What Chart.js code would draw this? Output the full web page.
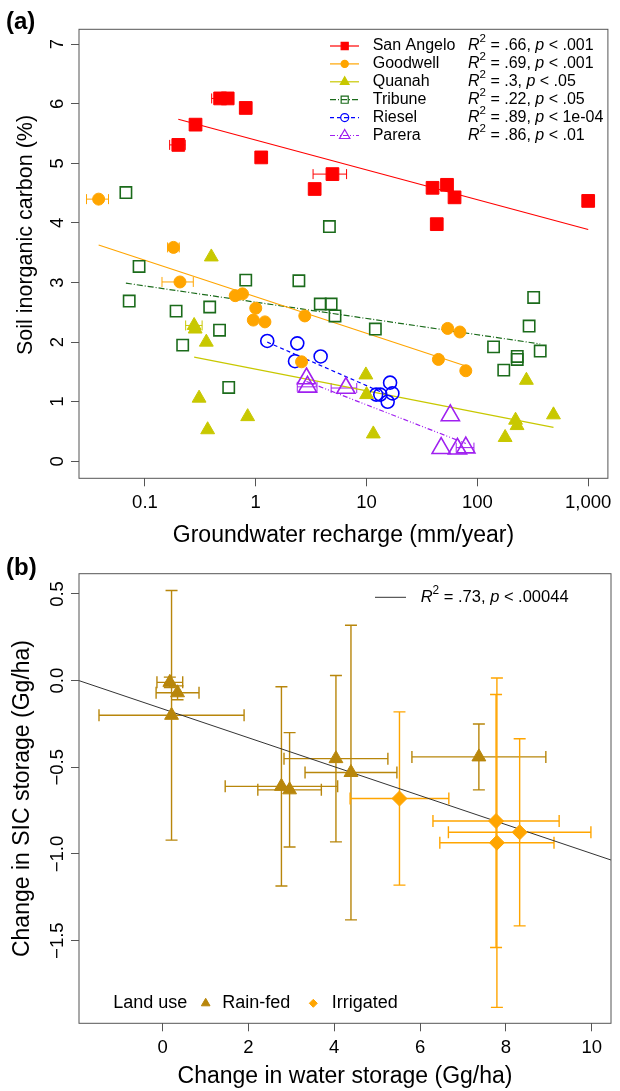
<!DOCTYPE html>
<html>
<head>
<meta charset="utf-8">
<script src="https://cdn.jsdelivr.net/npm/chart.js@4.4.0/dist/chart.umd.min.js"></script>
<style>
  html, body { margin: 0; padding: 0; background: #fff; }
  #wrap { position: relative; width: 620px; height: 1091px; }
  canvas { position: absolute; left: 0; }
  #ca { top: 0; }
  #cb { top: 555px; }
</style>
</head>
<body>
<div id="wrap">
  <canvas id="ca" width="620" height="555"></canvas>
  <canvas id="cb" width="620" height="536"></canvas>
</div>
<script>
// ---------- panel (a): SIC vs groundwater recharge ----------
const aXTicks = [0.1, 1, 10, 100, 1000];
const aXTickLabels = ['0.1', '1', '10', '100', '1,000'];
const aYTicks = [0, 1, 2, 3, 4, 5, 6, 7];
const aYTickLabels = ['0', '1', '2', '3', '4', '5', '6', '7'];

const sanAngeloX = [0.20, 0.286, 0.477, 0.558, 0.812, 1.12, 3.40, 4.92, 39.4, 53.2, 62.2, 43.0, 1000];
const sanAngeloY = [5.31, 5.65, 6.09, 6.09, 5.93, 5.10, 4.57, 4.82, 4.59, 4.64, 4.43, 3.98, 4.37];
const sanAngeloErr = [[0, 0.167, 0.231], [2, 0.40, 0.63], [7, 3.29, 6.60]];
const sanAngeloFitX = [0.2, 1000];
const sanAngeloFitY = [5.74, 3.89];

const goodwellX = [0.0382, 0.181, 0.207, 0.653, 0.759, 1.0, 0.95, 1.21, 2.77, 2.59, 53.9, 69.5, 44.5, 78.6];
const goodwellY = [4.40, 3.59, 3.01, 2.78, 2.81, 2.57, 2.37, 2.34, 2.44, 1.67, 2.23, 2.17, 1.71, 1.52];
const goodwellErr = [[0, 0.0297, 0.0469], [1, 0.160, 0.204], [2, 0.1425, 0.273]];
const goodwellFitX = [0.0382, 78.6];
const goodwellFitY = [3.63, 1.60];

const quanahX = [0.397, 0.278, 0.284, 0.358, 0.308, 0.845, 0.368, 9.86, 10.0, 11.5, 277, 221, 228, 178, 486];
const quanahY = [3.43, 2.28, 2.22, 2.00, 1.06, 0.75, 0.53, 1.45, 1.12, 0.46, 1.36, 0.69, 0.60, 0.40, 0.78];
const quanahErr = [[1, 0.233, 0.328]];
const quanahFitX = [0.278, 486];
const quanahFitY = [1.75, 0.57];

const tribuneX = [0.0673, 4.62, 0.0885, 0.0721, 0.812, 2.45, 0.191, 0.384, 0.471, 0.219, 0.570, 3.82, 4.79, 5.19, 12.0, 322, 293, 140, 229, 229, 369, 173];
const tribuneY = [4.51, 3.94, 3.27, 2.69, 3.04, 3.03, 2.52, 2.59, 2.20, 1.95, 1.24, 2.64, 2.64, 2.44, 2.22, 2.75, 2.27, 1.92, 1.76, 1.71, 1.85, 1.53];
const tribuneErr = [];
const tribuneFitX = [0.0673, 369];
const tribuneFitY = [2.99, 1.97];

const rieselX = [1.27, 2.37, 2.26, 3.85, 12.2, 13.3, 16.3, 17.1, 15.5];
const rieselY = [2.02, 1.98, 1.68, 1.76, 1.12, 1.12, 1.32, 1.14, 1.00];
const rieselErr = [];
const rieselFitX = [1.27, 17.1];
const rieselFitY = [2.00, 1.08];

const pareraX = [2.87, 2.93, 6.51, 57.0, 47.1, 66.1, 78.6];
const pareraY = [1.39, 1.25, 1.23, 0.77, 0.22, 0.21, 0.23];
const pareraErr = [[1, 2.37, 3.57], [2, 4.79, 8.15], [6, 64.4, 93.1]];
const pareraFitX = [2.87, 78.6];
const pareraFitY = [1.34, 0.30];

// ---------- panel (b): SIC storage vs water storage ----------
const bXTicks = [0, 2, 4, 6, 8, 10];
const bXTickLabels = ['0', '2', '4', '6', '8', '10'];
const bYTicks = [0.5, 0, -0.5, -1, -1.5];
const bYTickLabels = ['0.5', '0.0', '\u22120.5', '\u22121.0', '\u22121.5'];

const rainX = [0.17, 0.35, 0.21, 2.77, 2.96, 4.04, 4.39, 7.37];
const rainY = [-0.01, -0.07, -0.20, -0.61, -0.63, -0.45, -0.53, -0.44];
const rainXErr = [0.30, 0.50, 1.69, 1.31, 0.74, 1.21, 1.07, 1.56];
const rainYErr = [0.03, 0.04, 0.72, 0.575, 0.33, 0.48, 0.85, 0.19];

const irrX = [5.52, 7.77, 7.79, 8.32];
const irrY = [-0.68, -0.81, -0.935, -0.875];
const irrXErr = [1.15, 1.47, 1.33, 1.66];
const irrYErr = [0.50, 0.73, 0.95, 0.54];

const bFitX = [-1.946, 10.448];
const bFitY = [0.0, -1.035];

const FONT = '"Liberation Sans", Arial, Helvetica, sans-serif';
Chart.defaults.font.family = FONT;
Chart.defaults.color = '#000';

const sites = [
  { name: 'San Angelo', x: sanAngeloX, y: sanAngeloY, err: sanAngeloErr, fx: sanAngeloFitX, fy: sanAngeloFitY,
    r2: '.66', p: '.001', color: '#ff0000', style: 'rect', r: 9, filled: true, dash: [], lr: 5 },
  { name: 'Goodwell', x: goodwellX, y: goodwellY, err: goodwellErr, fx: goodwellFitX, fy: goodwellFitY,
    r2: '.69', p: '.001', color: '#ffa500', style: 'circle', r: 6, filled: true, dash: [], lr: 3.6 },
  { name: 'Quanah', x: quanahX, y: quanahY, err: quanahErr, fx: quanahFitX, fy: quanahFitY,
    r2: '.3', p: '.05', color: '#c8c800', style: 'triangle', r: 8, filled: true, dash: [], lr: 5 },
  { name: 'Tribune', x: tribuneX, y: tribuneY, err: tribuneErr, fx: tribuneFitX, fy: tribuneFitY,
    r2: '.22', p: '.05', color: '#1b6b1b', style: 'rect', r: 8, filled: false, dash: [6, 2, 1, 2], lr: 5 },
  { name: 'Riesel', x: rieselX, y: rieselY, err: rieselErr, fx: rieselFitX, fy: rieselFitY,
    r2: '.89', p: '1e-04', color: '#0000ff', style: 'circle', r: 6.5, filled: false, dash: [4, 3], lr: 4 },
  { name: 'Parera', x: pareraX, y: pareraY, err: pareraErr, fx: pareraFitX, fy: pareraFitY,
    r2: '.86', p: '.01', color: '#a020f0', style: 'triangle', r: 10.5, filled: false, dash: [5, 2, 1, 2, 1, 2], lr: 6 }
];

function pts(xs, ys) { return xs.map((x, i) => ({ x: x, y: ys[i] })); }

function drawMarker(ctx, style, x, y, r, color, filled, lw) {
  ctx.save();
  ctx.setLineDash([]);
  ctx.beginPath();
  if (style === 'rect') {
    const s = r * Math.SQRT1_2;
    ctx.rect(x - s, y - s, 2 * s, 2 * s);
  } else if (style === 'circle') {
    ctx.arc(x, y, r, 0, Math.PI * 2);
  } else if (style === 'triangle') {
    ctx.moveTo(x, y - r);
    ctx.lineTo(x + r * 0.866, y + r * 0.5);
    ctx.lineTo(x - r * 0.866, y + r * 0.5);
    ctx.closePath();
  } else if (style === 'rectRot') {
    ctx.moveTo(x - r, y); ctx.lineTo(x, y - r); ctx.lineTo(x + r, y); ctx.lineTo(x, y + r);
    ctx.closePath();
  }
  if (filled) { ctx.fillStyle = color; ctx.fill(); }
  ctx.strokeStyle = color; ctx.lineWidth = lw; ctx.stroke();
  ctx.restore();
}

// "R² = .66, p < .001" with italic R and p
function drawStat(ctx, x, y, size, r2, p) {
  const parts = [
    ['italic', 'R', 0, 1], ['normal', '2', -0.42, 0.72],
    ['normal', ' = ' + r2 + ', ', 0, 1], ['italic', 'p', 0, 1], ['normal', ' < ' + p, 0, 1]
  ];
  ctx.save();
  ctx.textBaseline = 'middle'; ctx.textAlign = 'left'; ctx.fillStyle = '#000';
  let cx = x;
  for (const [st, t, dy, sc] of parts) {
    ctx.font = st + ' ' + (size * sc) + 'px ' + FONT;
    ctx.fillText(t, cx, y + dy * size);
    cx += ctx.measureText(t).width;
  }
  ctx.restore();
}

function rotatedText(ctx, text, x, y, size) {
  ctx.save();
  ctx.font = size + 'px ' + FONT; ctx.fillStyle = '#000';
  ctx.textAlign = 'center'; ctx.textBaseline = 'alphabetic';
  ctx.translate(x, y); ctx.rotate(-Math.PI / 2);
  ctx.fillText(text, 0, 0);
  ctx.restore();
}

function rotatedYLabels(chart, ticks, labels, x, size) {
  const ys = chart.scales.y;
  ticks.forEach((v, i) => rotatedText(chart.ctx, labels[i], x, ys.getPixelForValue(v), size));
}

function drawBox(chart) {
  const { ctx, chartArea: a } = chart;
  ctx.save();
  ctx.strokeStyle = '#555'; ctx.lineWidth = 1;
  ctx.strokeRect(a.left, a.top, a.right - a.left, a.bottom - a.top);
  ctx.restore();
}

function panelLabel(chart, text, x, y) {
  const ctx = chart.ctx;
  ctx.save();
  ctx.font = 'bold 24px ' + FONT; ctx.fillStyle = '#000';
  ctx.textBaseline = 'middle'; ctx.textAlign = 'left';
  ctx.fillText(text, x, y);
  ctx.restore();
}

const axisGrid = { drawOnChartArea: false, drawTicks: true, tickLength: 8, color: '#555', lineWidth: 1 };

// ---------- chart (a) ----------
const aDatasets = [];
sites.forEach(s => {
  aDatasets.push({
    label: s.name, data: pts(s.x, s.y), showLine: false,
    pointStyle: s.style, pointRadius: s.r, pointHoverRadius: s.r,
    backgroundColor: s.filled ? s.color : 'rgba(0,0,0,0)', borderColor: s.color,
    borderWidth: s.filled ? 1 : 1.6
  });
});
sites.forEach(s => {
  aDatasets.push({
    label: s.name + ' fit', data: pts(s.fx, s.fy), showLine: true,
    borderColor: s.color, borderWidth: 1.2, borderDash: s.dash,
    pointRadius: 0, fill: false
  });
});

const aPlugin = {
  id: 'aDecor',
  beforeDatasetsDraw(chart) {
    const ctx = chart.ctx, xs = chart.scales.x, ys = chart.scales.y;
    ctx.save(); ctx.lineWidth = 1;
    sites.forEach(s => {
      ctx.strokeStyle = s.color;
      s.err.forEach(([i, lo, hi]) => {
        const py = ys.getPixelForValue(s.y[i]);
        const x1 = xs.getPixelForValue(lo), x2 = xs.getPixelForValue(hi);
        ctx.beginPath();
        ctx.moveTo(x1, py); ctx.lineTo(x2, py);
        ctx.moveTo(x1, py - 5); ctx.lineTo(x1, py + 5);
        ctx.moveTo(x2, py - 5); ctx.lineTo(x2, py + 5);
        ctx.stroke();
      });
    });
    ctx.restore();
  },
  afterDraw(chart) {
    const ctx = chart.ctx;
    drawBox(chart);
    rotatedYLabels(chart, aYTicks, aYTickLabels, 63, 18.5);
    rotatedText(ctx, 'Soil inorganic carbon (%)', 31.5, 235, 21.5);
    panelLabel(chart, '(a)', 6, 22);
    // legend
    sites.forEach((s, k) => {
      const y = 46 + k * 17.9;
      ctx.save();
      ctx.strokeStyle = s.color; ctx.lineWidth = 1.2; ctx.setLineDash(s.dash);
      ctx.beginPath(); ctx.moveTo(330, y); ctx.lineTo(359, y); ctx.stroke();
      ctx.restore();
      drawMarker(ctx, s.style, 344.7, y, s.lr, s.color, s.filled, 1.2);
      ctx.save();
      ctx.font = '16px ' + FONT; ctx.fillStyle = '#000';
      ctx.textBaseline = 'middle'; ctx.textAlign = 'left';
      ctx.fillText(s.name, 372.7, y);
      ctx.restore();
      drawStat(ctx, 468, y, 16, s.r2, s.p);
    });
  }
};

new Chart(document.getElementById('ca'), {
  type: 'scatter',
  data: { datasets: aDatasets },
  options: {
    responsive: false, animation: false, events: [],
    layout: { padding: { left: 0, right: 4, top: 29.3, bottom: 0 } },
    plugins: { legend: { display: false }, tooltip: { enabled: false } },
    scales: {
      x: {
        type: 'logarithmic', min: 0.0254, max: 1506,
        afterBuildTicks: s => { s.ticks = aXTicks.map(v => ({ value: v })); },
        afterFit: s => { s.height = 76.7; },
        border: { display: false }, grid: axisGrid,
        ticks: { callback: (v, i) => aXTickLabels[i], font: { size: 18.5 }, color: '#000', padding: 6, maxRotation: 0, autoSkip: false },
        title: { display: true, text: 'Groundwater recharge (mm/year)', font: { size: 23 }, color: '#000', padding: { top: 0, bottom: 6 } }
      },
      y: {
        min: -0.285, max: 7.25,
        afterBuildTicks: s => { s.ticks = aYTicks.map(v => ({ value: v })); },
        afterFit: s => { s.width = 79; },
        border: { display: false }, grid: axisGrid,
        ticks: { display: false },
        title: { display: false }
      }
    }
  },
  plugins: [aPlugin]
});

// ---------- chart (b) ----------
const RAIN = '#b8860b', IRR = '#ffa500';

const bPlugin = {
  id: 'bDecor',
  beforeDatasetsDraw(chart) {
    const ctx = chart.ctx, xs = chart.scales.x, ys = chart.scales.y;
    const bars = (X, Y, XE, YE, color) => {
      ctx.strokeStyle = color;
      X.forEach((x, i) => {
        const px = xs.getPixelForValue(x), py = ys.getPixelForValue(Y[i]);
        const x1 = xs.getPixelForValue(x - XE[i]), x2 = xs.getPixelForValue(x + XE[i]);
        const y1 = ys.getPixelForValue(Y[i] + YE[i]), y2 = ys.getPixelForValue(Y[i] - YE[i]);
        ctx.beginPath();
        ctx.moveTo(x1, py); ctx.lineTo(x2, py);
        ctx.moveTo(x1, py - 6); ctx.lineTo(x1, py + 6);
        ctx.moveTo(x2, py - 6); ctx.lineTo(x2, py + 6);
        ctx.moveTo(px, y1); ctx.lineTo(px, y2);
        ctx.moveTo(px - 6, y1); ctx.lineTo(px + 6, y1);
        ctx.moveTo(px - 6, y2); ctx.lineTo(px + 6, y2);
        ctx.stroke();
      });
    };
    ctx.save(); ctx.lineWidth = 1.4;
    bars(rainX, rainY, rainXErr, rainYErr, RAIN);
    bars(irrX, irrY, irrXErr, irrYErr, IRR);
    ctx.restore();
  },
  afterDraw(chart) {
    const ctx = chart.ctx;
    drawBox(chart);
    rotatedYLabels(chart, bYTicks, bYTickLabels, 63, 18.5);
    panelLabel(chart, '(b)', 6, 13.5);
    // fit legend
    ctx.save();
    ctx.strokeStyle = '#333'; ctx.lineWidth = 1;
    ctx.beginPath(); ctx.moveTo(375, 42.3); ctx.lineTo(406, 42.3); ctx.stroke();
    ctx.restore();
    drawStat(ctx, 420.7, 42.3, 16.5, '.73', '.00044');
    // land use legend
    ctx.save();
    ctx.font = '18px ' + FONT; ctx.fillStyle = '#000';
    ctx.textBaseline = 'middle'; ctx.textAlign = 'left';
    ctx.fillText('Land use', 113.3, 448.3);
    ctx.fillText('Rain-fed', 222.3, 448.3);
    ctx.fillText('Irrigated', 331.7, 448.3);
    ctx.restore();
    drawMarker(ctx, 'triangle', 205.7, 448.3, 5, RAIN, true, 1);
    drawMarker(ctx, 'rectRot', 313.3, 448.3, 4, IRR, true, 1);
  }
};

new Chart(document.getElementById('cb'), {
  type: 'scatter',
  data: {
    datasets: [
      { label: 'Rain-fed', data: pts(rainX, rainY), pointStyle: 'triangle', pointRadius: 8, pointHoverRadius: 8,
        backgroundColor: RAIN, borderColor: RAIN, borderWidth: 1 },
      { label: 'Irrigated', data: pts(irrX, irrY), pointStyle: 'rectRot', pointRadius: 7.5, pointHoverRadius: 7.5,
        backgroundColor: IRR, borderColor: IRR, borderWidth: 1 },
      { label: 'fit', data: pts(bFitX, bFitY), showLine: true, borderColor: '#333', borderWidth: 1,
        pointRadius: 0, fill: false }
    ]
  },
  options: {
    responsive: false, animation: false, events: [],
    layout: { padding: { left: 0, right: 4, top: 18.7, bottom: 0 } },
    plugins: { legend: { display: false }, tooltip: { enabled: false } },
    scales: {
      x: {
        type: 'linear', min: -1.946, max: 10.448,
        afterBuildTicks: s => { s.ticks = bXTicks.map(v => ({ value: v })); },
        afterFit: s => { s.height = 67.7; },
        border: { display: false }, grid: axisGrid,
        ticks: { callback: (v, i) => bXTickLabels[i], font: { size: 18.5 }, color: '#000', padding: 6, maxRotation: 0, autoSkip: false },
        title: { display: true, text: 'Change in water storage (Gg/ha)', font: { size: 23 }, color: '#000', padding: { top: 0, bottom: 0.5 } }
      },
      y: {
        min: -1.977, max: 0.617,
        afterBuildTicks: s => { s.ticks = bYTicks.map(v => ({ value: v })); },
        afterFit: s => { s.width = 79; },
        border: { display: false }, grid: axisGrid,
        ticks: { display: false },
        title: { display: true, text: 'Change in SIC storage (Gg/ha)', font: { size: 23 }, color: '#000', padding: { top: 8.5, bottom: 0 } }
      }
    }
  },
  plugins: [bPlugin]
});
</script>
</body>
</html>
